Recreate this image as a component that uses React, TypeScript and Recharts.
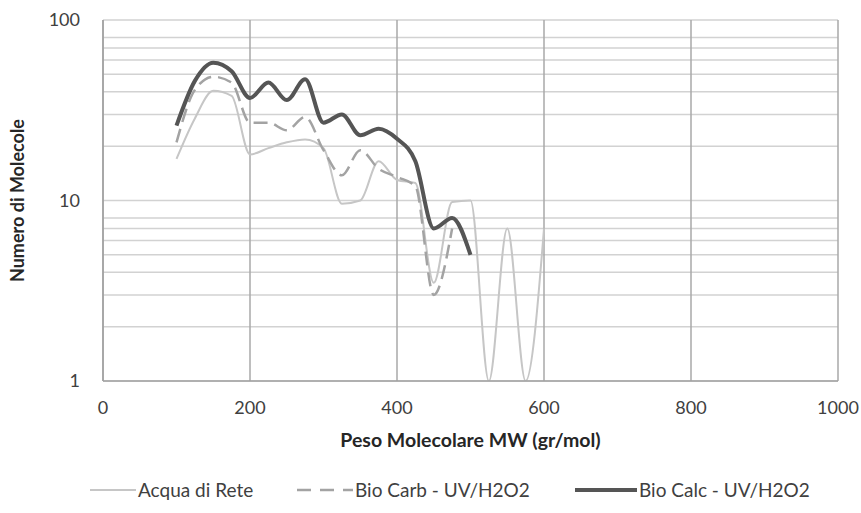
import { LineChart, Line, XAxis, YAxis, CartesianGrid, Label } from 'recharts'

// molecular weight steps (gr/mol)
const mw = [100, 125, 150, 175, 200, 225, 250, 275, 300, 325, 350, 375, 400, 425, 450, 475, 500, 525, 550, 575, 600]

const acquaDiRete = [17, 28.5, 40.5, 38, 18, 19.5, 21, 21.8, 19.5, 9.6, 10, 16.5, 13, 12.5, 3.5, 9.8, 10, 1, 7, 1, 7]
const bioCarb = [21, 41, 48.5, 45, 27, 27, 24.5, 29, 19, 13.8, 19, 15, 13.5, 12, 3, 7]
const bioCalc = [26, 46, 58, 52, 37, 45, 36, 47, 27, 30, 23, 25, 22, 16.5, 7, 8, 5]

const xTicks = [0, 200, 400, 600, 800, 1000]
const yTicks = [1, 2, 3, 4, 5, 6, 7, 8, 9, 10, 20, 30, 40, 50, 60, 70, 80, 90, 100]
const yLabels = [1, 10, 100]

const seriesNames = ['Acqua di Rete', 'Bio Carb - UV/H2O2', 'Bio Calc - UV/H2O2']

const data = mw.map((x, i) => ({
  mw: x,
  acqua: acquaDiRete[i],
  carb: bioCarb[i],
  calc: bioCalc[i],
}))

const FONT = 'Lato, "Open Sans", sans-serif'
const LIGHT = '#c6c6c6'
const MID = '#a3a3a3'
const DARK = '#555555'

function LegendItem({ left, label, stroke, width, dash, lineW }: any) {
  return (
    <div style={{ position: 'absolute', left, top: 0, display: 'flex', alignItems: 'center', whiteSpace: 'nowrap' }}>
      <svg width={lineW} height={10} style={{ marginRight: 2 }}>
        <line x1={0} y1={5} x2={lineW} y2={5} stroke={stroke} strokeWidth={width} strokeDasharray={dash} />
      </svg>
      <span>{label}</span>
    </div>
  )
}

export default function App() {
  return (
    <div style={{ position: 'absolute', left: 0, top: 0, width: 861, height: 513, background: '#fff' }}>
      <LineChart
        width={861}
        height={513}
        data={data}
        margin={{ top: 20, right: 23, bottom: 0, left: 0 }}
      >
        <CartesianGrid horizontal vertical={false} stroke="#d2d2d2" strokeWidth={1.5} />
        <CartesianGrid horizontal={false} vertical stroke="#a8a8a8" strokeWidth={1.5} />
        <XAxis
          dataKey="mw"
          type="number"
          domain={[0, 1000]}
          ticks={xTicks}
          tickLine={false}
          axisLine={{ stroke: '#a0a0a0', strokeWidth: 1.5 }}
          tick={{ fontSize: 18, fill: '#404040', fontFamily: FONT }}
          tickMargin={14}
          height={132}
        >
          <Label
            value="Peso Molecolare MW (gr/mol)"
            position="insideTop"
            offset={52}
            style={{ fontSize: 19.5, fontWeight: 700, fill: '#262626', fontFamily: FONT }}
          />
        </XAxis>
        <YAxis
          scale="log"
          domain={[1, 100]}
          ticks={yTicks}
          allowDataOverflow
          tickFormatter={(v: number) => (yLabels.includes(v) ? String(v) : '')}
          tickLine={false}
          axisLine={{ stroke: '#a0a0a0', strokeWidth: 1.5 }}
          tick={{ fontSize: 18, fill: '#404040', fontFamily: FONT }}
          tickMargin={17}
          width={103}
        >
          <Label
            value="Numero di Molecole"
            angle={-90}
            position="insideLeft"
            offset={18}
            style={{ fontSize: 18, fontWeight: 700, fill: '#262626', fontFamily: FONT, textAnchor: 'middle' }}
          />
        </YAxis>
        <Line
          dataKey="acqua"
          name={seriesNames[0]}
          type="monotone"
          stroke={LIGHT}
          strokeWidth={2}
          dot={false}
          isAnimationActive={false}
        />
        <Line
          dataKey="carb"
          name={seriesNames[1]}
          type="monotone"
          stroke={MID}
          strokeWidth={2.5}
          strokeDasharray="14 7"
          dot={false}
          isAnimationActive={false}
        />
        <Line
          dataKey="calc"
          name={seriesNames[2]}
          type="monotone"
          stroke={DARK}
          strokeWidth={4}
          dot={false}
          isAnimationActive={false}
        />
      </LineChart>
      <div
        style={{
          position: 'absolute',
          left: 0,
          top: 478,
          width: 861,
          height: 26,
          fontFamily: FONT,
          fontSize: 19,
          color: '#404040',
        }}
      >
        <LegendItem left={90} label={seriesNames[0]} stroke={LIGHT} width={2} lineW={46} />
        <LegendItem left={297} label={seriesNames[1]} stroke={MID} width={2.5} dash="14 9" lineW={56} />
        <LegendItem left={575} label={seriesNames[2]} stroke={DARK} width={4} lineW={62} />
      </div>
    </div>
  )
}
